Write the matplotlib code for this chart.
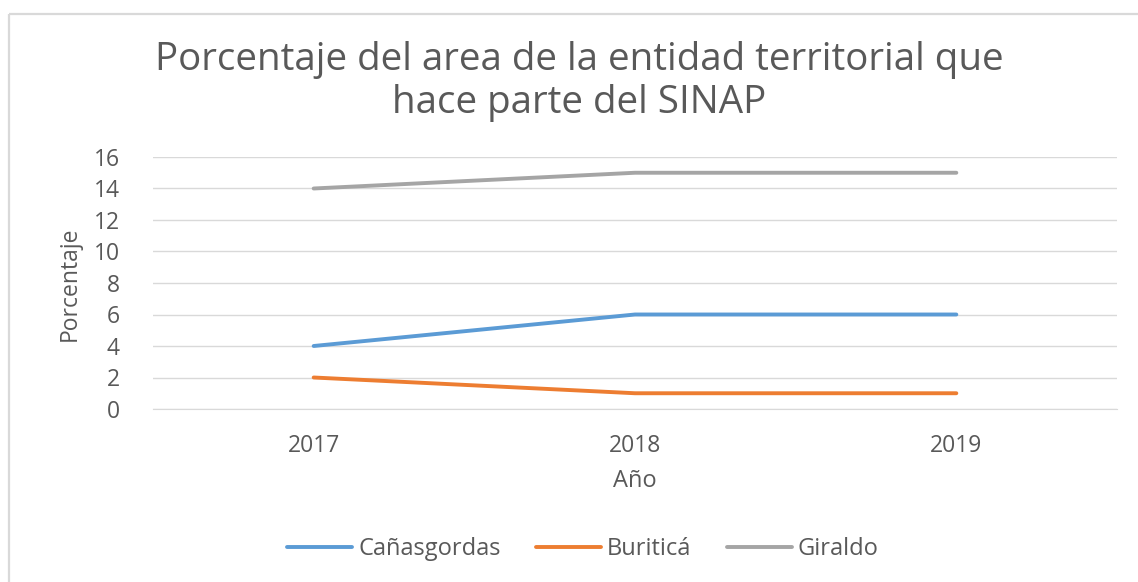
import matplotlib
matplotlib.use("Agg")
import matplotlib.pyplot as plt
from matplotlib.lines import Line2D

years = ["2017", "2018", "2019"]
canasgordas = [4, 6, 6]
buritica = [2, 1, 1]
giraldo = [14, 15, 15]
series_names = ["Cañasgordas", "Buriticá", "Giraldo"]
colors = ["#5b9bd5", "#ed7d31", "#a5a5a5"]
yticks = [0, 2, 4, 6, 8, 10, 12, 14, 16]

plt.rcParams['font.family'] = ['Open Sans', 'DejaVu Sans']
txt = "#595959"

W, H = 1138, 582
fig = plt.figure(figsize=(W / 100, H / 100), dpi=100)
fig.patch.set_facecolor("white")

# chart border (only top and left edges are visible in the crop)
fig.add_artist(Line2D([9 / W, 1.01], [1 - 13.5 / H, 1 - 13.5 / H], transform=fig.transFigure,
                      color="#d9d9d9", linewidth=1.6, solid_capstyle="butt"))
fig.add_artist(Line2D([9 / W, 9 / W], [1 - 13.5 / H, -0.01], transform=fig.transFigure,
                      color="#d9d9d9", linewidth=1.6, solid_capstyle="butt"))

ax = fig.add_axes([153 / W, 1 - 409 / H, (1117 - 153) / W, (409 - 157) / H])
x = list(range(len(years)))
for vals, name, c in zip([canasgordas, buritica, giraldo], series_names, colors):
    ax.plot(x, vals, color=c, linewidth=2.8, solid_capstyle="round", label=name)

ax.set_xlim(-0.5, len(years) - 0.5)
ax.set_ylim(0, 16)
ax.set_yticks(yticks)
ax.set_xticks(x)
ax.set_xticklabels(years)
ax.grid(axis="y", color="#d9d9d9", linewidth=1)
ax.set_axisbelow(True)
for s in ax.spines.values():
    s.set_visible(False)
ax.spines["bottom"].set_visible(True)
ax.spines["bottom"].set_color("#d9d9d9")
ax.tick_params(axis="both", length=0, labelsize=16.5, labelcolor=txt)
ax.tick_params(axis="x", pad=18)
ax.tick_params(axis="y", pad=24)

fig.text(579 / W, 1 - 60 / H, "Porcentaje del area de la entidad territorial que",
         ha="center", va="center", fontsize=27.7, color=txt)
fig.text(579 / W, 1 - 103 / H, "hace parte del SINAP",
         ha="center", va="center", fontsize=27.7, color=txt)
fig.text(635 / W, 1 - 481 / H, "Año", ha="center", va="center", fontsize=17, color=txt)
fig.text(70 / W, 1 - 284 / H, "Porcentaje", ha="center", va="center", rotation=90,
         fontsize=16.5, color=txt)

handles, labels = ax.get_legend_handles_labels()
fig.legend(handles, labels, loc="center", bbox_to_anchor=(583 / W, 1 - 549 / H), ncol=3,
           frameon=False, fontsize=17, labelcolor=txt, handlelength=2.75,
           handletextpad=0.25, columnspacing=1.5)

fig.savefig("out.png", dpi=100, facecolor="white")
